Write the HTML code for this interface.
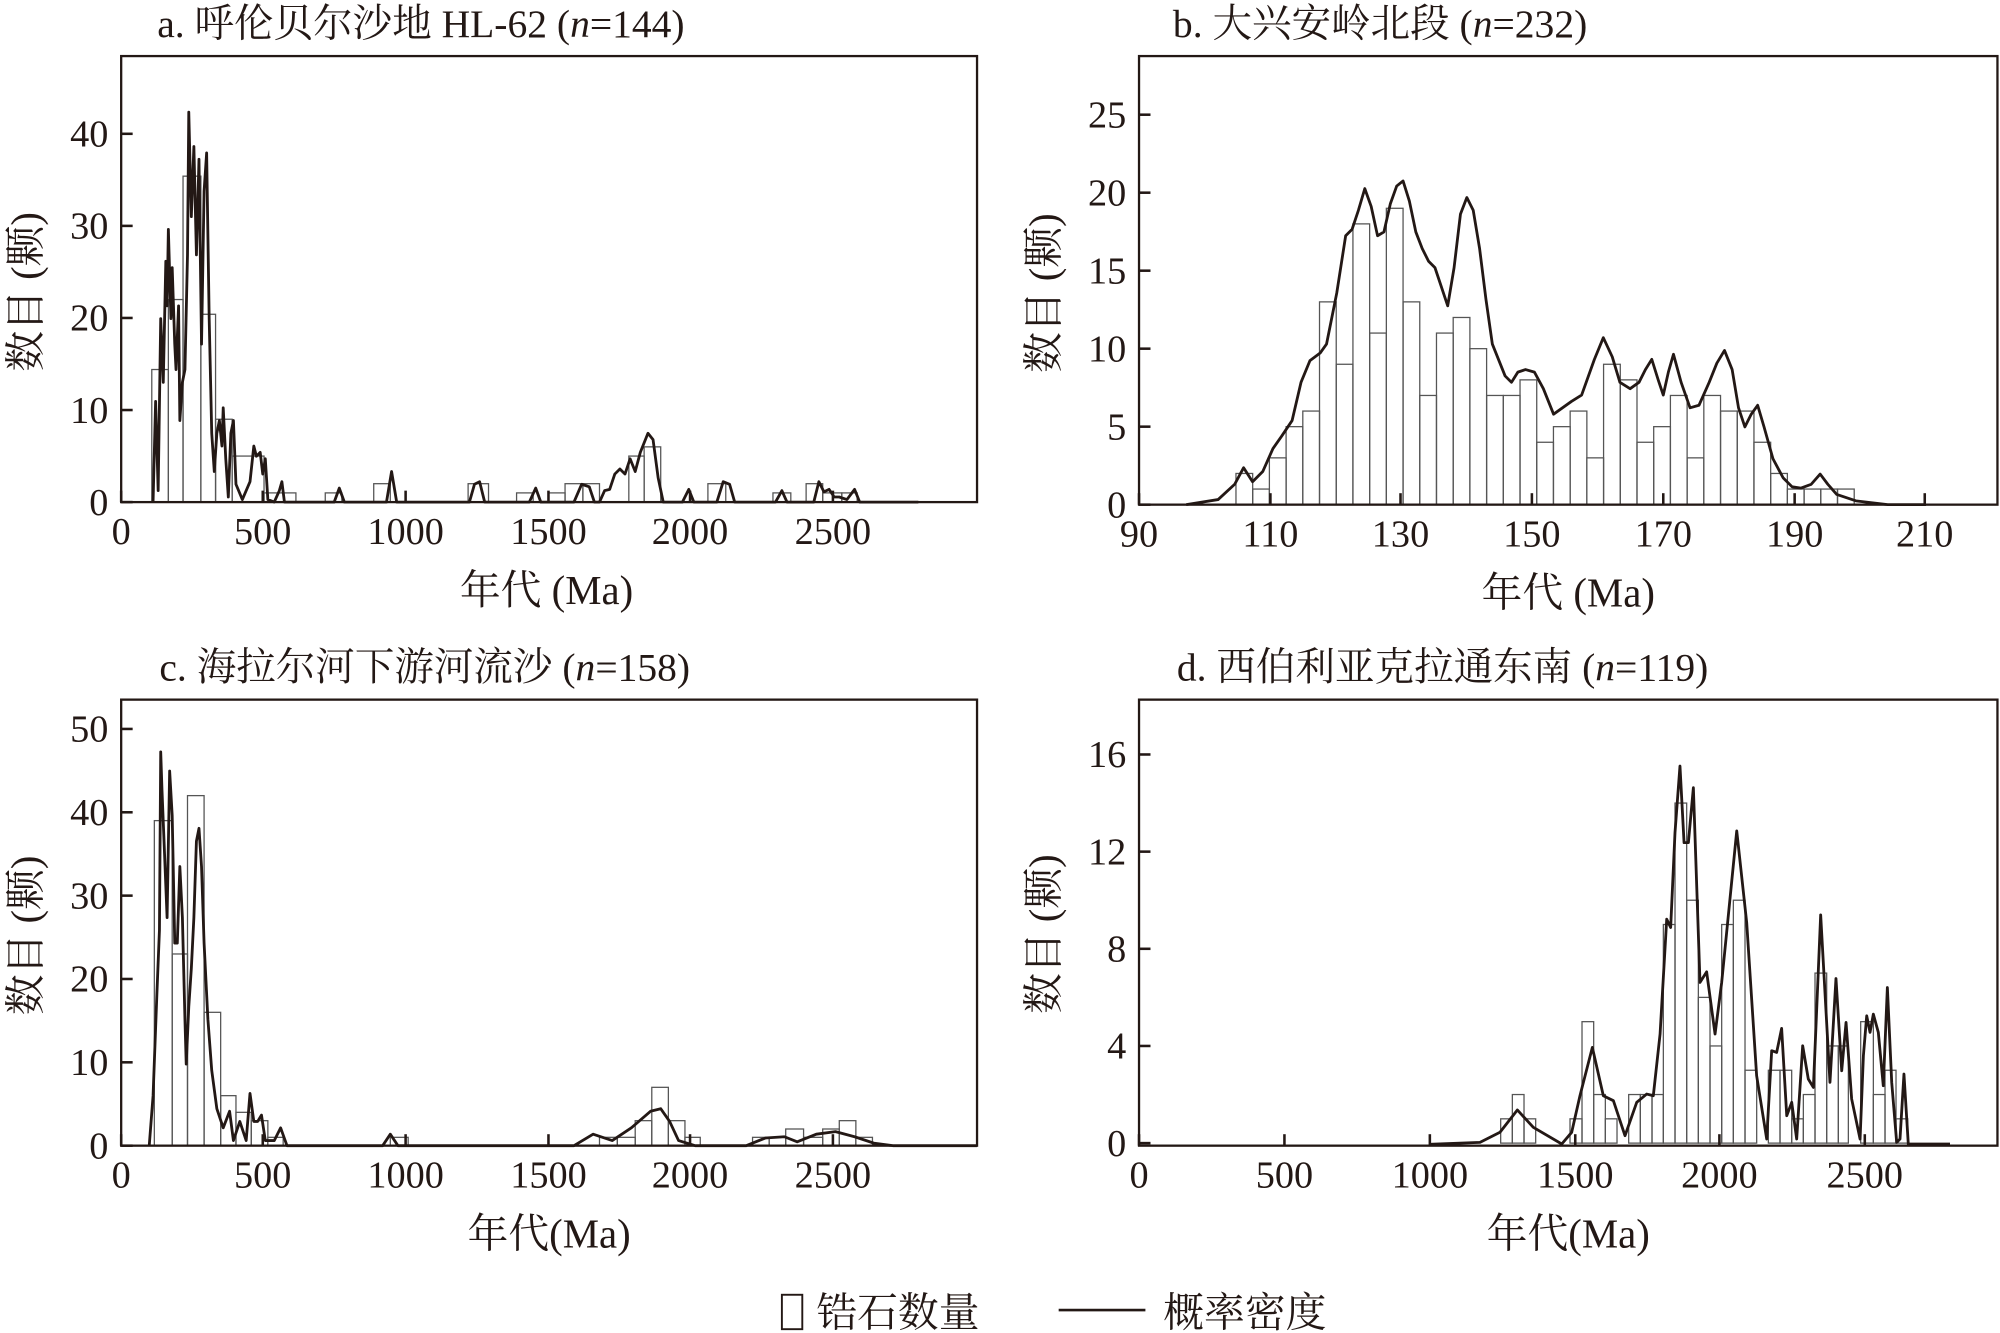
<!DOCTYPE html>
<html><head><meta charset="utf-8">
<style>
html,body{margin:0;padding:0;background:#fff;}
svg{display:block;}
text{font-family:"Liberation Serif","Noto Serif CJK SC",serif;fill:#231815;}
</style></head>
<body>
<svg id="s" width="2000" height="1333" viewBox="0 0 1568 1046" preserveAspectRatio="none" xmlns="http://www.w3.org/2000/svg">
<g id="g"></g>
</svg>
<script>
const NS="http://www.w3.org/2000/svg";
const g=document.getElementById('g');
function el(t,a,txt){const e=document.createElementNS(NS,t);for(const k in a)e.setAttribute(k,a[k]);if(txt!==undefined)e.textContent=txt;g.appendChild(e);return e;}
const C="#231815";
function panel(p){
  p.bars.forEach(b=>{const y=p.y0-b[2]*p.ys;el('rect',{x:b[0],y:y,width:b[1]-b[0],height:b[2]*p.ys,fill:'none',stroke:'#555',"stroke-width":1});});
  el('polyline',{points:p.curve.map(q=>q.join(',')).join(' '),fill:'none',stroke:C,"stroke-width":2.2,"stroke-linejoin":"round"});
  el('rect',{x:p.x0,y:p.top,width:p.x1-p.x0,height:p.y0-p.top+p.yb,fill:'none',stroke:C,"stroke-width":1.8});
  p.yt.forEach(v=>{const y=p.y0-v*p.ys;el('line',{x1:p.x0,x2:p.x0+9,y1:y,y2:y,stroke:C,"stroke-width":2});
    el('text',{x:p.x0-10,y:y+10,"font-size":30,"text-anchor":"end"},String(v));});
  p.xt.forEach(t=>{const x=t[0];el('line',{x1:x,x2:x,y1:p.y0+p.yb,y2:p.y0+p.yb-9,stroke:C,"stroke-width":2});
    el('text',{x:x,y:p.y0+p.yb+33,"font-size":30,"text-anchor":"middle"},t[1]);});
  const t=el('text',{x:p.tx,y:p.top-15,"font-size":31,"text-anchor":"middle"});
  t.innerHTML=p.title;
  el('text',{x:(p.x0+p.x1)/2+p.xlo,y:p.y0+p.yb+80,"font-size":32,"text-anchor":"middle"},p.xl);
  el('text',{x:0,y:0,"font-size":32,"text-anchor":"middle",transform:`translate(${p.x0-64},${(p.top+p.y0)/2+10}) rotate(-90)`},"数目 (颗)");
}
panel({x0:95,x1:766,top:44,y0:394,yb:0,ys:7.225,tx:330,xlo:-2,
 title:'a. 呼伦贝尔沙地 HL-62 (<tspan font-style="italic">n</tspan>=144)',xl:'年代 (Ma)',
 yt:[0,10,20,30,40],xt:[[95,'0'],[206,'500'],[318,'1000'],[430,'1500'],[541,'2000'],[653,'2500']],
 bars:[[119,132,14.4],[132,143.5,22],[143.5,157.5,35.4],[157.5,169,20.4],[169,182,9],[182,207,5],[207,232,1],[255,268,1],[293,306,2],[367,383,2],[405,418,1],[430,443,1],[443,457,2],[457,470,2],[493,505,5],[505,518,6],[555,569,2],[606,620,1],[632,645,2],[645,660,1],[660,672,1]],
 curve:[[120,394],[122,315],[124,385],[126,250],[128,300],[130,205],[131,240],[132,180],[134,250],[135,210],[137,270],[138,290],[140,240],[141,330],[143,300],[145,290],[147,200],[148,88],[150,170],[152,115],[154,200],[156,125],[158,270],[160,150],[162,120],[164,250],[166,340],[168,370],[170,340],[172,330],[174,350],[175,320],[177,360],[179,390],[181,340],[183,330],[185,380],[190,392],[196,378],[199,350],[201,358],[204,355],[206,372],[208,360],[210,392],[215,394],[219,385],[221,378],[223,394],[262,394],[266,383],[270,394],[303,394],[307,370],[311,394],[368,394],[372,380],[376,378],[380,394],[415,394],[420,383],[424,394],[450,394],[456,380],[462,382],[466,394],[470,394],[474,385],[478,384],[482,372],[486,368],[490,372],[494,360],[498,370],[502,355],[508,340],[512,345],[516,375],[520,394],[535,394],[540,384],[544,394],[562,394],[567,378],[572,380],[576,394],[608,394],[613,385],[617,394],[638,394],[642,378],[646,386],[650,384],[654,390],[658,390],[664,392],[670,384],[674,394],[720,394]]});
const bh=[2,1,3,5,6,13,9,18,11,19,13,7,11,12,10,7,7,8,4,5,6,3,9,8,4,5,7,3,7,6,6,4,2,1,1,1,1];
const bb=[];bh.forEach((h,i)=>bb.push([969+i*13.1,969+(i+1)*13.1,h]));
panel({x0:893,x1:1566,top:44,y0:396,yb:0,ys:12.24,tx:1082,xlo:0,
 title:'b. 大兴安岭北段 (<tspan font-style="italic">n</tspan>=232)',xl:'年代 (Ma)',
 yt:[0,5,10,15,20,25],xt:[[893,'90'],[996,'110'],[1098,'130'],[1201,'150'],[1304,'170'],[1407,'190'],[1509,'210']],
 bars:bb,
 curve:[[930,396],[955,392],[968,380],[975,367],[982,378],[990,370],[998,352],[1005,342],[1013,330],[1020,300],[1027,283],[1035,277],[1040,270],[1048,230],[1055,185],[1060,180],[1065,165],[1070,148],[1075,162],[1080,185],[1085,182],[1090,160],[1095,146],[1100,142],[1105,158],[1110,182],[1115,195],[1120,205],[1125,210],[1130,225],[1135,240],[1140,210],[1145,168],[1150,155],[1155,165],[1160,195],[1165,235],[1170,270],[1180,295],[1185,300],[1190,292],[1196,290],[1203,292],[1210,305],[1218,325],[1225,320],[1232,315],[1240,310],[1250,282],[1257,265],[1264,280],[1270,300],[1278,305],[1285,300],[1290,290],[1295,282],[1300,298],[1304,310],[1308,292],[1312,278],[1318,300],[1325,320],[1332,318],[1340,300],[1346,285],[1352,275],[1358,290],[1363,320],[1368,335],[1373,325],[1378,318],[1383,335],[1390,360],[1398,375],[1405,382],[1412,383],[1420,380],[1427,372],[1433,380],[1440,388],[1455,393],[1480,396],[1510,396]]});
panel({x0:95,x1:766,top:549,y0:899,yb:0,ys:6.54,tx:333,xlo:0,
 title:'c. 海拉尔河下游河流沙 (<tspan font-style="italic">n</tspan>=158)',xl:'年代(Ma)',
 yt:[0,10,20,30,40,50],xt:[[95,'0'],[206,'500'],[318,'1000'],[430,'1500'],[541,'2000'],[653,'2500']],
 bars:[[121,135,39],[135,147,23],[147,160,42],[160,173,16],[173,185,6],[185,197,4],[197,210,3],[210,222,1],[306,320,1],[470,484,1],[484,498,1],[498,511,3],[511,524,7],[524,537,3],[537,549,1],[590,603,1],[603,616,1],[616,630,2],[630,645,1],[645,658,2],[658,671,3],[671,684,1]],
 curve:[[117,899],[120,860],[123,780],[125,730],[126,590],[127,620],[129,670],[131,720],[133,605],[135,640],[137,740],[139,740],[141,680],[143,720],[145,800],[146,835],[148,790],[150,760],[152,720],[154,660],[156,650],[158,680],[160,740],[163,800],[166,840],[170,870],[175,885],[180,872],[183,895],[188,880],[193,895],[196,858],[199,880],[202,880],[205,875],[208,895],[215,895],[220,885],[225,899],[300,899],[306,890],[312,899],[450,899],[465,890],[480,895],[495,885],[510,872],[518,870],[525,880],[532,895],[545,899],[585,899],[600,893],[615,892],[625,896],[640,890],[655,888],[670,892],[685,897],[700,899],[766,899]]});
const dz=(zx,zy)=>[((1480+zx/3)/1.2755).toFixed(1),((750+zy/3)/1.2755).toFixed(1)];
const dzx=zx=>(1480+zx/3)/1.2755;
const dbr=[[62,97,1],[97,132,2],[132,167,1],[270,306,1],[306,341,5],[341,376,2],[376,411,1],[446,481,2],[481,516,2],[516,550,2],[550,585,9],[585,620,14],[620,655,10],[655,690,6],[690,725,4],[725,760,9],[760,795,10],[795,830,3],[865,900,3],[900,935,3],[935,970,1],[970,1005,2],[1005,1040,7],[1040,1075,4],[1075,1105,4],[1142,1180,5],[1180,1215,2],[1215,1248,3],[1248,1283,1]].map(b=>[dzx(b[0]),dzx(b[1]),b[2]]);
const dc=[[-150,1186],[0,1180],[60,1150],[112,1083],[160,1135],[245,1185],[275,1150],[300,1040],[337,895],[370,1040],[400,1055],[435,1160],[470,1060],[500,1035],[520,1040],[540,855],[560,510],[572,535],[585,250],[600,50],[612,280],[625,280],[640,115],[660,700],[680,668],[705,855],[725,700],[770,245],[800,520],[830,980],[860,1170],[875,905],[890,910],[905,838],[920,1100],[935,1060],[950,1170],[968,890],[985,990],[1000,1015],[1022,497],[1050,1000],[1068,688],[1085,965],[1098,820],[1115,1050],[1140,1170],[1150,920],[1160,800],[1170,850],[1180,795],[1195,850],[1210,1010],[1222,715],[1235,1000],[1250,1180],[1260,1170],[1272,975],[1285,1185],[1410,1185]].map(q=>dz(q[0],q[1]));
panel({x0:893,x1:1566,top:549,y0:897,yb:2,ys:19.06,tx:1131,xlo:0,
 title:'d. 西伯利亚克拉通东南 (<tspan font-style="italic">n</tspan>=119)',xl:'年代(Ma)',
 yt:[0,4,8,12,16],xt:[[893,'0'],[1007,'500'],[1121,'1000'],[1235,'1500'],[1348,'2000'],[1462,'2500']],
 bars:dbr,curve:dc});
el('rect',{x:613,y:1016,width:16,height:27,fill:'none',stroke:C,"stroke-width":1.5});
el('text',{x:640,y:1041,"font-size":32},"锆石数量");
el('line',{x1:830,x2:898,y1:1028,y2:1028,stroke:C,"stroke-width":2});
el('text',{x:912,y:1041,"font-size":32},"概率密度");
</script>
</body></html>
